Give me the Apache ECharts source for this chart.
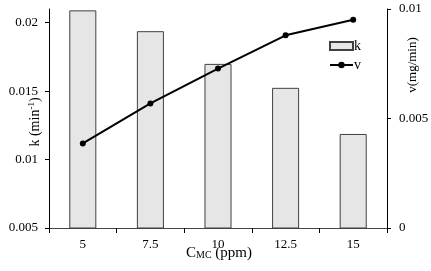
<!DOCTYPE html>
<html>
<head>
<meta charset="utf-8">
<script src="https://cdn.jsdelivr.net/npm/echarts@6/dist/echarts.min.js"></script>
<style>
  html, body { margin: 0; padding: 0; background: #fff; }
  #chart { width: 431px; height: 271px; }
</style>
</head>
<body>
<div id="chart"></div>
<script>
// data
const categories = ['5', '7.5', '10', '12.5', '15'];
const kValues = [0.0209, 0.01938, 0.01699, 0.01524, 0.01187];
const vValues = [0.00386, 0.00569, 0.00728, 0.0088, 0.00951];
const kTicks = [0.005, 0.01, 0.015, 0.02];
const vTicks = [0, 0.005, 0.01];

const font = 'Liberation Serif';
const chart = echarts.init(document.getElementById('chart'));

const option = {
  animation: false,
  textStyle: { fontFamily: font, color: '#000' },
  grid: { left: 49, right: 44, top: 9, bottom: 43, outerBoundsMode: 'none' },
  legend: {
    orient: 'vertical',
    left: 324,
    top: 34,
    itemWidth: 23,
    itemHeight: 8,
    itemGap: 5,
    textStyle: { fontFamily: font, fontSize: 14, color: '#000', padding: [0, 0, 0, -4] },
    data: [{ name: 'k', icon: 'rect' }, { name: 'v' }]
  },
  xAxis: {
    type: 'category',
    data: categories,
    boundaryGap: true,
    axisLine: { lineStyle: { color: '#444', width: 1 } },
    axisTick: { show: true, inside: false, length: 5, alignWithLabel: false, lineStyle: { color: '#000' } },
    axisLabel: { fontFamily: font, fontSize: 13, color: '#000', margin: 10 },
    splitLine: { show: false }
  },
  yAxis: [
    {
      type: 'value',
      position: 'left',
      min: 0.005,
      max: 0.021,
      interval: 0.005,
      axisLine: { show: true, lineStyle: { color: '#000', width: 1 } },
      axisTick: { show: true, inside: false, length: 4, customValues: kTicks },
      axisLabel: { fontFamily: font, fontSize: 13, color: '#000', margin: 11, customValues: kTicks },
      splitLine: { show: false }
    },
    {
      type: 'value',
      position: 'right',
      min: 0,
      max: 0.01,
      interval: 0.005,
      axisLine: { show: true, lineStyle: { color: '#000', width: 1 } },
      axisTick: { show: true, inside: false, length: 4, customValues: vTicks },
      axisLabel: { fontFamily: font, fontSize: 13, color: '#000', margin: 12, customValues: vTicks },
      splitLine: { show: false }
    }
  ],
  series: [
    {
      name: 'k',
      type: 'bar',
      yAxisIndex: 0,
      barWidth: '40%',
      data: kValues,
      itemStyle: { color: '#e6e6e6', borderColor: '#404040', borderWidth: 1 }
    },
    {
      name: 'v',
      type: 'line',
      yAxisIndex: 1,
      data: vValues,
      symbol: 'circle',
      symbolSize: 6,
      color: '#000',
      itemStyle: { color: '#000' },
      lineStyle: { color: '#000', width: 2 }
    }
  ],
  graphic: [
    {
      type: 'text',
      x: 35, y: 122,
      rotation: Math.PI / 2,
      style: {
        text: '{a|k (min}{s|-1}{a|)}',
        align: 'center', verticalAlign: 'middle',
        rich: {
          a: { fontFamily: font, fontSize: 14, fill: '#000' },
          s: { fontFamily: font, fontSize: 9, fill: '#000', verticalAlign: 'top', padding: [0, 0, 6, 0] }
        }
      }
    },
    {
      type: 'text',
      x: 413, y: 65,
      rotation: Math.PI / 2,
      style: {
        text: 'v(mg/min)',
        align: 'center', verticalAlign: 'middle',
        font: '13px "Liberation Serif"',
        fill: '#000'
      }
    },
    {
      type: 'text',
      x: 219, y: 253,
      style: {
        text: '{a|C}{s|MC}{a| (ppm)}',
        align: 'center', verticalAlign: 'middle',
        rich: {
          a: { fontFamily: font, fontSize: 15, fill: '#000' },
          s: { fontFamily: font, fontSize: 10, fill: '#000', padding: [5, 0, 0, 0] }
        }
      }
    }
  ]
};

chart.setOption(option);
window.addEventListener('resize', () => chart.resize());
</script>
</body>
</html>
